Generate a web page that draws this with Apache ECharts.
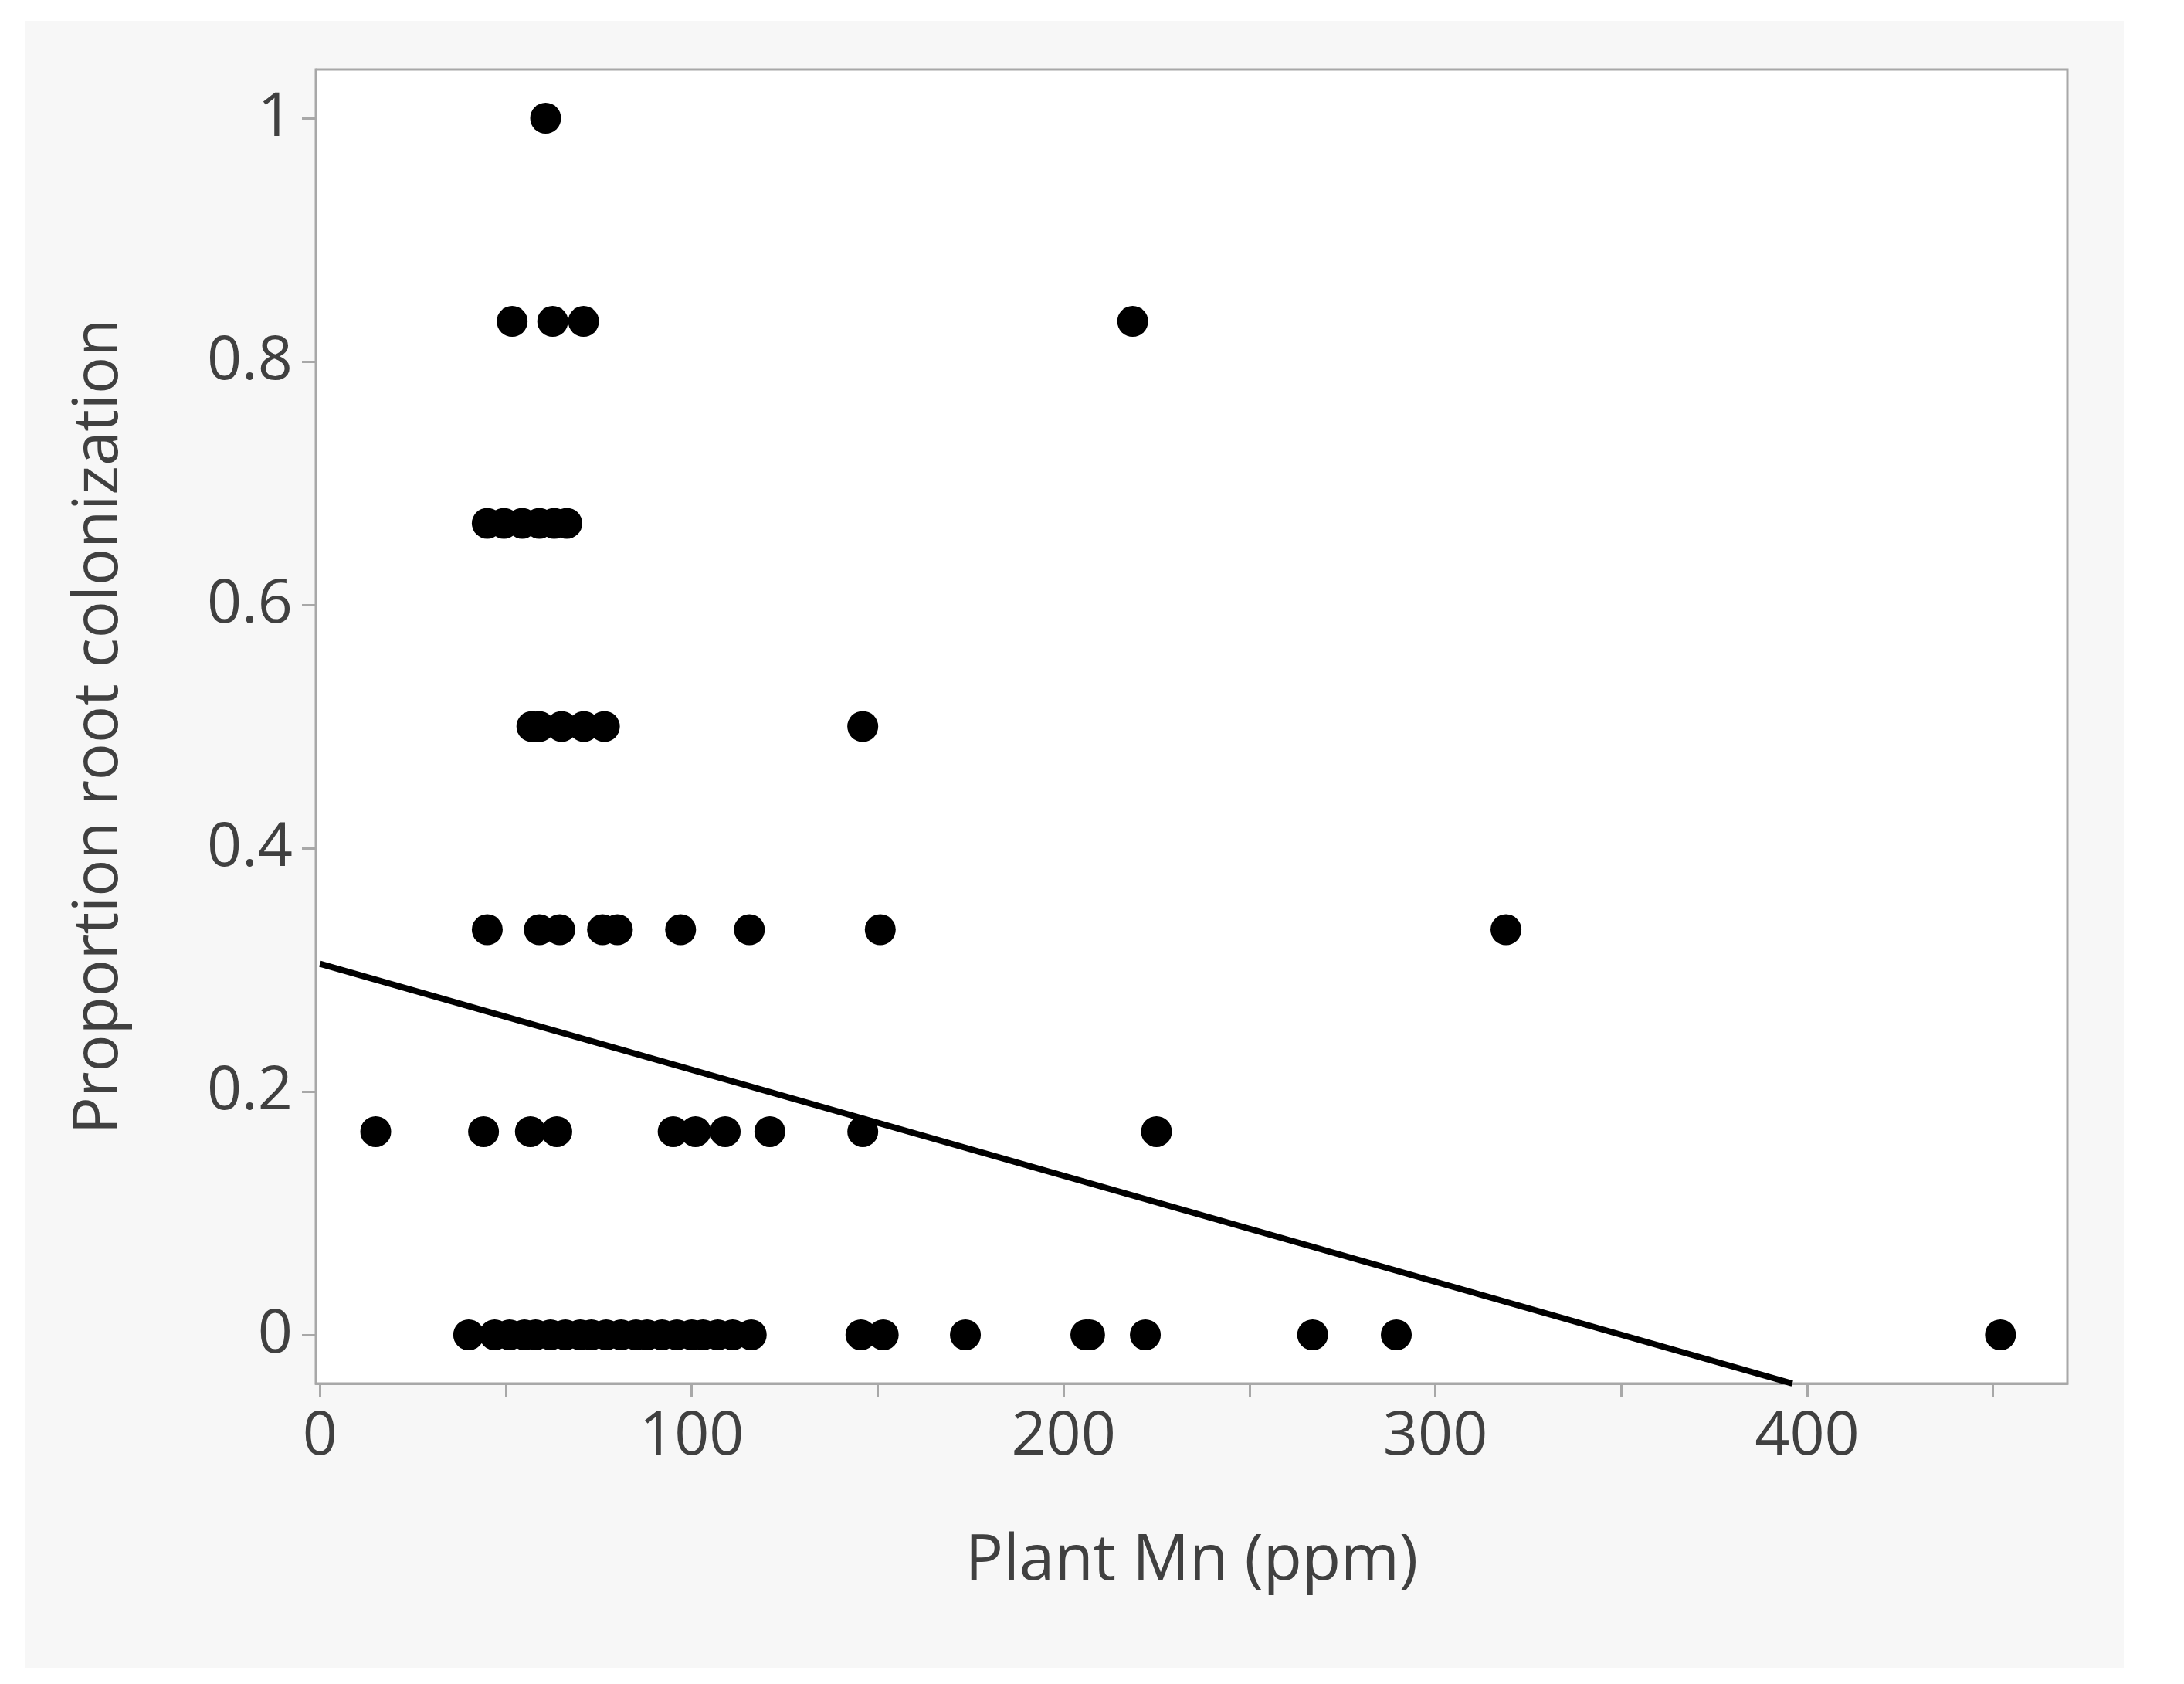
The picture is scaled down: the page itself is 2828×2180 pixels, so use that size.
<!DOCTYPE html>
<html><head><meta charset="utf-8">
<script src="https://cdn.jsdelivr.net/npm/echarts@6/dist/echarts.min.js"></script>
<style>html,body{margin:0;background:#fff}#c{width:2828px;height:2180px}</style>
</head><body><div id="c"></div>
<script>
const xLabels=[0,100,200,300,400];
const xTicks=[0,50,100,150,200,250,300,350,400,450];
const yLabels=[0,0.2,0.4,0.6,0.8,1];
const pts1=[[60.7,1]];
const pts833=[[51.7,0.833],[62.6,0.833],[70.9,0.833],[218.6,0.833]];
const pts667=[[45,0.667],[49.5,0.667],[54.4,0.667],[59,0.667],[63,0.667],[66.4,0.667]];
const pts5=[[57,0.5],[59,0.5],[65,0.5],[71,0.5],[76.5,0.5],[146,0.5]];
const pts333=[[45,0.333],[59,0.333],[64.5,0.333],[76,0.333],[80,0.333],[97,0.333],[115.5,0.333],[150.7,0.333],[319,0.333]];
const pts167=[[15,0.167],[44,0.167],[56.6,0.167],[63.7,0.167],[95,0.167],[101,0.167],[109,0.167],[121,0.167],[146,0.167],[225,0.167]];
const pts0=[[40,0],[47,0],[51,0],[55,0],[58,0],[62,0],[66,0],[70,0],[73,0],[77,0],[81,0],[85,0],[88,0],[92,0],[96,0],[100,0],[103,0],[107,0],[111,0],[116,0],[145.5,0],[151.5,0],[173.6,0],[206,0],[207,0],[222,0],[267,0],[289.5,0],[452,0]];
const fitLine=[[0,0.305],[396,-0.04]];
const allPts=[].concat(pts1,pts833,pts667,pts5,pts333,pts167,pts0);
const ch=echarts.init(document.getElementById('c'));
const txt='#404040', ax='#a8a8a8', ff='Open Sans';
ch.setOption({
 animation:false,
 graphic:[{type:'rect',z:-10,shape:{x:32,y:27,width:2718,height:2132},style:{fill:'#f7f7f7'}},
          {type:'rect',z:-9,shape:{x:409,y:90,width:2268,height:1701},style:{fill:'#fff',stroke:ax,lineWidth:3}}],
 grid:{left:409,top:90,width:2268,height:1701},
 xAxis:{type:'value',min:-1.1,max:470,name:'Plant Mn (ppm)',nameLocation:'middle',nameGap:190,
  nameTextStyle:{fontSize:82,color:txt,fontFamily:ff},
  axisLine:{show:true,onZero:false,lineStyle:{color:ax,width:3}},
  axisTick:{show:true,length:18,customValues:xTicks,lineStyle:{color:ax,width:3}},
  axisLabel:{customValues:xLabels,fontSize:79,color:txt,fontFamily:ff,margin:30},
  splitLine:{show:false}},
 yAxis:{type:'value',min:-0.04,max:1.04,name:'Proportion root colonization',nameLocation:'middle',nameGap:240,
  nameTextStyle:{fontSize:80,color:txt,fontFamily:ff},
  axisLine:{show:true,onZero:false,lineStyle:{color:ax,width:3}},
  axisTick:{show:true,length:18,customValues:yLabels,lineStyle:{color:ax,width:3}},
  axisLabel:{customValues:yLabels,fontSize:79,color:txt,fontFamily:ff,margin:30},
  splitLine:{show:false}},
 series:[
  {type:'scatter',data:allPts,symbolSize:40,itemStyle:{color:'#000',opacity:1}},
  {type:'line',data:fitLine,symbol:'none',lineStyle:{color:'#000',width:8}}
 ]
});
</script></body></html>
